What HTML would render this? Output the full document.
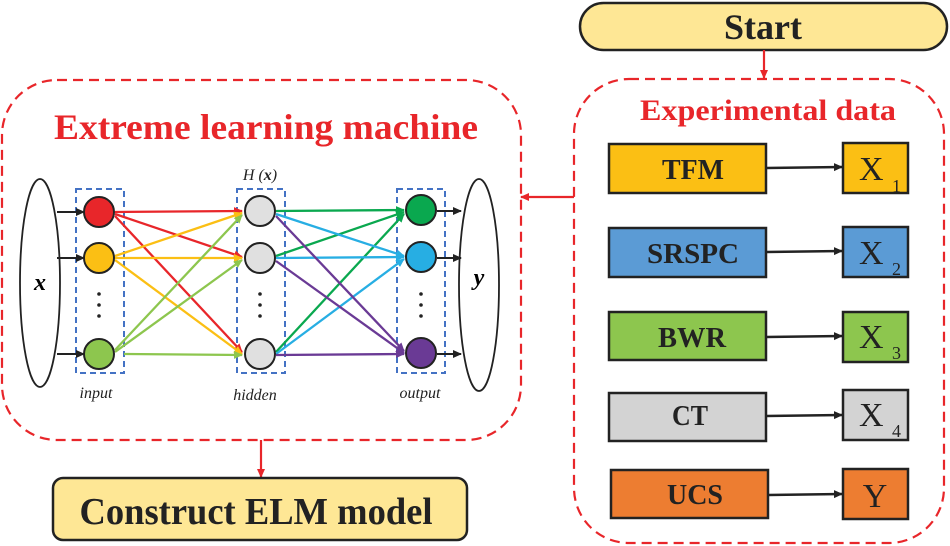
<!DOCTYPE html>
<html><head><meta charset="utf-8"><style>html,body{margin:0;padding:0;background:#fff}svg{display:block}</style></head><body>
<svg width="950" height="546" viewBox="0 0 950 546" xmlns="http://www.w3.org/2000/svg" font-family="Liberation Serif, serif">
<defs>
<marker id="ak" markerWidth="9" markerHeight="9" refX="8" refY="4.5" orient="auto" markerUnits="userSpaceOnUse"><path d="M0,0.5 L9,4.5 L0,8.5 Z" fill="#222"/></marker>
<marker id="ar" markerWidth="9" markerHeight="9" refX="8" refY="4.5" orient="auto" markerUnits="userSpaceOnUse"><path d="M0,0.5 L9,4.5 L0,8.5 Z" fill="#e8262a"/></marker>
<marker id="m1" markerWidth="9" markerHeight="9" refX="8" refY="4.5" orient="auto" markerUnits="userSpaceOnUse"><path d="M0,0.5 L9,4.5 L0,8.5 Z" fill="#e8262a"/></marker>
<marker id="m2" markerWidth="9" markerHeight="9" refX="8" refY="4.5" orient="auto" markerUnits="userSpaceOnUse"><path d="M0,0.5 L9,4.5 L0,8.5 Z" fill="#fbbf14"/></marker>
<marker id="m3" markerWidth="9" markerHeight="9" refX="8" refY="4.5" orient="auto" markerUnits="userSpaceOnUse"><path d="M0,0.5 L9,4.5 L0,8.5 Z" fill="#8dc64e"/></marker>
<marker id="m4" markerWidth="9" markerHeight="9" refX="8" refY="4.5" orient="auto" markerUnits="userSpaceOnUse"><path d="M0,0.5 L9,4.5 L0,8.5 Z" fill="#0aa84f"/></marker>
<marker id="m5" markerWidth="9" markerHeight="9" refX="8" refY="4.5" orient="auto" markerUnits="userSpaceOnUse"><path d="M0,0.5 L9,4.5 L0,8.5 Z" fill="#27aee3"/></marker>
<marker id="m6" markerWidth="9" markerHeight="9" refX="8" refY="4.5" orient="auto" markerUnits="userSpaceOnUse"><path d="M0,0.5 L9,4.5 L0,8.5 Z" fill="#6a3a95"/></marker>
</defs>

<!-- Start -->
<rect x="580" y="3" width="367" height="47" rx="23.5" fill="#fee795" stroke="#222" stroke-width="2.5"/>
<text x="763" y="39" text-anchor="middle" font-size="36" font-weight="bold" fill="#222" textLength="78" lengthAdjust="spacingAndGlyphs">Start</text>
<line x1="764" y1="50" x2="764" y2="78" stroke="#e8262a" stroke-width="2.2" marker-end="url(#ar)"/>

<!-- right dashed -->
<rect x="574" y="79" width="370" height="464" rx="55" fill="none" stroke="#e8262a" stroke-width="2.2" stroke-dasharray="10,6"/>
<text x="768" y="120" text-anchor="middle" font-size="30" font-weight="bold" fill="#e8262a" textLength="256" lengthAdjust="spacingAndGlyphs">Experimental data</text>

<g stroke="#222" stroke-width="2.5">
<rect x="609" y="144" width="157" height="49" fill="#fbbf14"/>
<rect x="843" y="143" width="65" height="50" fill="#fbbf14"/>
<rect x="609" y="228" width="157" height="49" fill="#5b9bd5"/>
<rect x="843" y="227" width="65" height="50" fill="#5b9bd5"/>
<rect x="609" y="312" width="157" height="48" fill="#8dc64e"/>
<rect x="843" y="312" width="65" height="50" fill="#8dc64e"/>
<rect x="609" y="393" width="157" height="48" fill="#d3d3d3"/>
<rect x="843" y="390" width="65" height="50" fill="#d3d3d3"/>
<rect x="611" y="470" width="157" height="48" fill="#ed7d31"/>
<rect x="843" y="469" width="65" height="50" fill="#ed7d31"/>
</g>
<g stroke="#222" stroke-width="2.5">
<line x1="766" y1="168" x2="842" y2="167" marker-end="url(#ak)"/>
<line x1="766" y1="252" x2="842" y2="251" marker-end="url(#ak)"/>
<line x1="766" y1="337" x2="842" y2="336" marker-end="url(#ak)"/>
<line x1="766" y1="416" x2="842" y2="415" marker-end="url(#ak)"/>
<line x1="768" y1="495" x2="842" y2="494" marker-end="url(#ak)"/>
</g>
<g font-size="28" font-weight="bold" fill="#222" text-anchor="middle">
<text x="693" y="179" textLength="62" lengthAdjust="spacingAndGlyphs">TFM</text>
<text x="693" y="263" textLength="92" lengthAdjust="spacingAndGlyphs">SRSPC</text>
<text x="692" y="347" textLength="68" lengthAdjust="spacingAndGlyphs">BWR</text>
<text x="690" y="425" textLength="36" lengthAdjust="spacingAndGlyphs">CT</text>
<text x="695" y="504" textLength="56" lengthAdjust="spacingAndGlyphs">UCS</text>
</g>
<g font-size="34" fill="#222">
<text x="859" y="180">X</text><text x="892" y="192" font-size="18">1</text>
<text x="859" y="264">X</text><text x="892" y="275" font-size="18">2</text>
<text x="859" y="348">X</text><text x="892" y="359" font-size="18">3</text>
<text x="859" y="426">X</text><text x="892" y="437" font-size="18">4</text>
<text x="875" y="507" text-anchor="middle">Y</text>
</g>

<!-- left dashed -->
<rect x="2" y="80" width="519" height="360" rx="55" fill="none" stroke="#e8262a" stroke-width="2.2" stroke-dasharray="10,6"/>
<text x="266" y="139" text-anchor="middle" font-size="36" font-weight="bold" fill="#e8262a" textLength="424" lengthAdjust="spacingAndGlyphs">Extreme learning machine</text>
<line x1="574" y1="197" x2="521" y2="197" stroke="#e8262a" stroke-width="2.2" marker-end="url(#ar)"/>
<line x1="261" y1="440" x2="261" y2="477" stroke="#e8262a" stroke-width="2.2" marker-end="url(#ar)"/>

<!-- construct -->
<rect x="53" y="478" width="414" height="62" rx="10" fill="#fee795" stroke="#222" stroke-width="2.5"/>
<text x="256" y="524" text-anchor="middle" font-size="38" font-weight="bold" fill="#222" textLength="353" lengthAdjust="spacingAndGlyphs">Construct ELM model</text>

<!-- network -->
<ellipse cx="40" cy="283" rx="20" ry="104" fill="none" stroke="#222" stroke-width="1.8"/>
<text x="40" y="290" text-anchor="middle" font-size="24" font-style="italic" font-weight="bold">x</text>
<ellipse cx="479" cy="285" rx="20" ry="106" fill="none" stroke="#222" stroke-width="1.8"/>
<text x="479" y="285" text-anchor="middle" font-size="24" font-style="italic" font-weight="bold">y</text>

<g fill="none" stroke="#4472c4" stroke-width="2" stroke-dasharray="6,4">
<rect x="76" y="189" width="48" height="184"/>
<rect x="237" y="189" width="48" height="184"/>
<rect x="397" y="189" width="48" height="184"/>
</g>
<g stroke="#222" stroke-width="2">
<line x1="57" y1="212" x2="84" y2="212" marker-end="url(#ak)"/>
<line x1="57" y1="258" x2="84" y2="258" marker-end="url(#ak)"/>
<line x1="57" y1="354" x2="84" y2="354" marker-end="url(#ak)"/>
<line x1="437" y1="211" x2="461" y2="211" marker-end="url(#ak)"/>
<line x1="437" y1="258" x2="461" y2="258" marker-end="url(#ak)"/>
<line x1="437" y1="354" x2="461" y2="354" marker-end="url(#ak)"/>
</g>
<g stroke-width="2.3" fill="none">
<line x1="115" y1="212" x2="242" y2="211" stroke="#e8262a" marker-end="url(#m1)"/>
<line x1="115" y1="214" x2="242" y2="257" stroke="#e8262a" marker-end="url(#m1)"/>
<line x1="115" y1="216" x2="242" y2="352" stroke="#e8262a" marker-end="url(#m1)"/>
<line x1="115" y1="256" x2="242" y2="213" stroke="#fbbf14" marker-end="url(#m2)"/>
<line x1="115" y1="258" x2="242" y2="258" stroke="#fbbf14" marker-end="url(#m2)"/>
<line x1="115" y1="260" x2="242" y2="354" stroke="#fbbf14" marker-end="url(#m2)"/>
<line x1="115" y1="350" x2="242" y2="215" stroke="#8dc64e" marker-end="url(#m3)"/>
<line x1="115" y1="352" x2="242" y2="260" stroke="#8dc64e" marker-end="url(#m3)"/>
<line x1="124" y1="354" x2="242" y2="355" stroke="#8dc64e" marker-end="url(#m3)"/>
<line x1="276" y1="211" x2="404" y2="210" stroke="#0aa84f" marker-end="url(#m4)"/>
<line x1="276" y1="256" x2="404" y2="212" stroke="#0aa84f" marker-end="url(#m4)"/>
<line x1="276" y1="352" x2="404" y2="214" stroke="#0aa84f" marker-end="url(#m4)"/>
<line x1="276" y1="214" x2="404" y2="256" stroke="#27aee3" marker-end="url(#m5)"/>
<line x1="276" y1="258" x2="404" y2="257" stroke="#27aee3" marker-end="url(#m5)"/>
<line x1="276" y1="354" x2="404" y2="259" stroke="#27aee3" marker-end="url(#m5)"/>
<line x1="276" y1="216" x2="404" y2="351" stroke="#6a3a95" marker-end="url(#m6)"/>
<line x1="276" y1="261" x2="404" y2="353" stroke="#6a3a95" marker-end="url(#m6)"/>
<line x1="276" y1="355" x2="404" y2="354" stroke="#6a3a95" marker-end="url(#m6)"/>
</g>
<g stroke="#222" stroke-width="2">
<circle cx="99" cy="212" r="15" fill="#e8262a"/>
<circle cx="99" cy="258" r="15" fill="#fbbf14"/>
<circle cx="99" cy="354" r="15" fill="#8dc64e"/>
<circle cx="260" cy="211" r="15" fill="#e0e0e0"/>
<circle cx="260" cy="258" r="15" fill="#e0e0e0"/>
<circle cx="260" cy="354" r="15" fill="#e0e0e0"/>
<circle cx="421" cy="210" r="15" fill="#0aa84f"/>
<circle cx="421" cy="257" r="15" fill="#27aee3"/>
<circle cx="421" cy="353" r="15" fill="#6a3a95"/>
</g>
<g fill="#222">
<circle cx="99" cy="294" r="1.8"/><circle cx="99" cy="305" r="1.8"/><circle cx="99" cy="316" r="1.8"/>
<circle cx="260" cy="294" r="1.8"/><circle cx="260" cy="305" r="1.8"/><circle cx="260" cy="316" r="1.8"/>
<circle cx="421" cy="294" r="1.8"/><circle cx="421" cy="305" r="1.8"/><circle cx="421" cy="316" r="1.8"/>
</g>
<g font-size="16" font-style="italic" fill="#222" text-anchor="middle">
<text x="96" y="398">input</text>
<text x="255" y="400">hidden</text>
<text x="420" y="398">output</text>
<text x="260" y="180">H (<tspan font-weight="bold">x</tspan>)</text>
</g>
</svg>
</body></html>
